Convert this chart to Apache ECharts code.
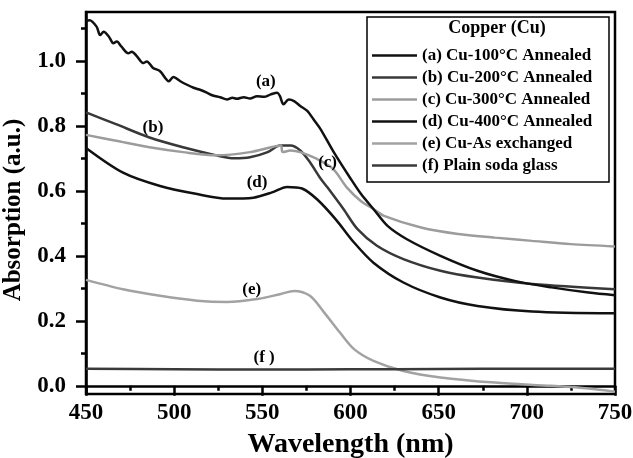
<!DOCTYPE html>
<html>
<head>
<meta charset="utf-8">
<script src="https://cdn.jsdelivr.net/npm/echarts@6/dist/echarts.min.js"></script>
<style>
  html, body { margin: 0; padding: 0; background: #fff; }
  #chart { width: 633px; height: 458px; }
</style>
</head>
<body>
<div id="chart"></div>
<script>
// wavelength (nm) / absorption (a.u.)
var wlA = [450, 452, 456, 458, 460, 463, 465.5, 467.5, 470, 474, 476, 479, 482.5, 484.5, 488, 492, 497, 499.5, 503.5, 507, 511, 515, 518.5, 522, 526, 530, 533, 535.5, 539.5, 543, 547, 551, 554.5, 558.5, 560, 562, 565, 568, 571.5, 575.5, 579, 583, 590.5, 600, 606, 613, 621, 632, 651, 672, 693, 714, 735, 750];
var absA = [1.123, 1.125, 1.105, 1.079, 1.089, 1.074, 1.054, 1.059, 1.044, 1.023, 1.028, 1.013, 0.993, 0.998, 0.978, 0.968, 0.937, 0.950, 0.937, 0.927, 0.917, 0.910, 0.902, 0.893, 0.888, 0.881, 0.886, 0.883, 0.888, 0.884, 0.891, 0.889, 0.896, 0.902, 0.891, 0.866, 0.881, 0.876, 0.861, 0.846, 0.820, 0.790, 0.719, 0.638, 0.590, 0.544, 0.492, 0.451, 0.400, 0.354, 0.323, 0.303, 0.287, 0.279];

var wlB = [450, 467, 486, 505, 524, 534, 543, 553, 560, 566, 571.5, 577, 583, 587, 596, 604, 615, 630, 651, 672, 703, 750];
var absB = [0.841, 0.805, 0.764, 0.734, 0.709, 0.700, 0.703, 0.719, 0.739, 0.739, 0.724, 0.688, 0.638, 0.610, 0.544, 0.482, 0.431, 0.390, 0.354, 0.333, 0.313, 0.297];

var wlC = [450, 467, 486, 505, 524, 543, 555, 560.5, 561.5, 566, 571.5, 581, 590, 598, 606, 613, 619, 640, 661, 682, 703, 725, 750];
var absC = [0.772, 0.754, 0.734, 0.719, 0.709, 0.719, 0.734, 0.739, 0.719, 0.724, 0.719, 0.698, 0.668, 0.610, 0.568, 0.544, 0.523, 0.487, 0.467, 0.456, 0.446, 0.436, 0.429];

var wlD = [450, 471, 492, 513, 530, 545, 555.5, 564, 572.5, 581, 591.5, 602, 613, 630, 651, 672, 703, 750];
var absD = [0.732, 0.656, 0.615, 0.590, 0.576, 0.579, 0.595, 0.612, 0.607, 0.574, 0.513, 0.441, 0.379, 0.318, 0.272, 0.246, 0.229, 0.223];

var wlE = [450, 471, 492, 513, 530, 547, 560, 568, 577, 585, 594, 602, 613, 630, 651, 682, 714, 735, 750];
var absE = [0.326, 0.297, 0.277, 0.262, 0.258, 0.267, 0.282, 0.292, 0.277, 0.226, 0.164, 0.113, 0.077, 0.046, 0.026, 0.010, 0.000, -0.008, -0.018];

var wlF = [450, 500, 550, 600, 650, 700, 750];
var absF = [0.053, 0.051, 0.050, 0.051, 0.052, 0.053, 0.053];

var names = [
  '(a) Cu-100°C Annealed',
  '(b) Cu-200°C Annealed',
  '(c) Cu-300°C Annealed',
  '(d) Cu-400°C Annealed',
  '(e) Cu-As exchanged',
  '(f) Plain soda glass'
];
var tags = ['(a)', '(b)', '(c)', '(d)', '(e)', '(f )'];
// where each curve tag sits, in data units
var tagAt = [[552, 0.935], [488, 0.794], [587, 0.686], [547, 0.625], [544, 0.297], [551, 0.087]];
var colors = ['#111111', '#383838', '#9c9c9c', '#111111', '#a2a2a2', '#3a3a3a'];

var yMajor = [0, 0.2, 0.4, 0.6, 0.8, 1.0];
var yMinor = [0.1, 0.3, 0.5, 0.7, 0.9, 1.1];

var serif = '"Liberation Serif", "DejaVu Serif", serif';

function pairs(xs, ys) {
  var out = [];
  for (var i = 0; i < xs.length; i++) out.push([xs[i], ys[i]]);
  return out;
}

var curves = [
  pairs(wlA, absA), pairs(wlB, absB), pairs(wlC, absC),
  pairs(wlD, absD), pairs(wlE, absE), pairs(wlF, absF)
];

var chart = echarts.init(document.getElementById('chart'));

var series = curves.map(function (d, i) {
  return {
    name: names[i],
    type: 'line',
    data: d,
    symbol: 'none',
    smooth: 0.3,
    lineStyle: { color: colors[i], width: 2.5 },
    itemStyle: { color: colors[i] },
    z: i === 0 || i === 3 ? 3 : 2,
    markPoint: {
      symbolSize: 0,
      silent: true,
      data: [{ coord: tagAt[i], value: tags[i] }],
      label: {
        show: true,
        position: 'inside',
        formatter: tags[i],
        color: '#000',
        fontFamily: serif,
        fontWeight: 'bold',
        fontSize: 17
      }
    }
  };
});

chart.setOption({
  backgroundColor: '#fff',
  animation: false,
  grid: {
    left: 86, right: 18, top: 12, bottom: 64,
    outerBoundsMode: 'none',
    containLabel: false,
    show: true, borderColor: '#000', borderWidth: 2.5
  },
  xAxis: {
    type: 'value',
    min: 450, max: 750, interval: 50,
    name: 'Wavelength (nm)',
    nameLocation: 'middle',
    nameGap: 37,
    nameTextStyle: { color: '#000', fontFamily: serif, fontWeight: 'bold', fontSize: 28 },
    axisLine: { lineStyle: { color: '#000', width: 2.5 } },
    axisTick: { length: 10, lineStyle: { color: '#000', width: 2.5 } },
    minorTick: { show: true, splitNumber: 2, length: 5, lineStyle: { color: '#000', width: 2.5 } },
    splitLine: { show: false },
    axisLabel: { color: '#000', fontFamily: serif, fontWeight: 'bold', fontSize: 23, margin: 8 }
  },
  yAxis: [{
    type: 'value',
    min: -0.025, max: 1.15,
    position: 'left',
    name: 'Absorption (a.u.)',
    nameLocation: 'middle',
    nameGap: 49,
    nameTextStyle: { color: '#000', fontFamily: serif, fontWeight: 'bold', fontSize: 25, padding: [0, 14, 0, 0] },
    axisLine: { show: true, lineStyle: { color: '#000', width: 2.5 } },
    axisTick: { show: true, length: 10, customValues: yMajor, lineStyle: { color: '#000', width: 2.5 } },
    splitLine: { show: false },
    axisLabel: {
      customValues: yMajor,
      color: '#000', fontFamily: serif, fontWeight: 'bold', fontSize: 23, margin: 20,
      formatter: function (v) { return v.toFixed(1); }
    }
  }, {
    type: 'value',
    min: -0.025, max: 1.15,
    position: 'left',
    axisLine: { show: false },
    axisTick: { show: true, length: 5, customValues: yMinor, lineStyle: { color: '#000', width: 2.5 } },
    axisLabel: { show: false },
    splitLine: { show: false }
  }],
  legend: {
    orient: 'vertical',
    left: 367,
    top: 42,
    z: 10,
    icon: 'path://M0 0H45V2.5H0Z',
    itemWidth: 45,
    itemHeight: 14,
    itemGap: 5,
    selectedMode: false,
    data: names,
    textStyle: { color: '#000', fontFamily: serif, fontWeight: 'bold', fontSize: 17, lineHeight: 17 }
  },
  graphic: [{
    type: 'rect',
    z: 5,
    shape: { x: 367, y: 17, width: 242, height: 165 },
    style: { fill: '#fff', stroke: '#000', lineWidth: 1.5 }
  }, {
    type: 'text',
    z: 6,
    x: 497, y: 28,
    style: {
      text: 'Copper (Cu)',
      fill: '#000',
      font: 'bold 18px ' + serif,
      align: 'center',
      verticalAlign: 'middle'
    }
  }],
  series: series
});
</script>
</body>
</html>
